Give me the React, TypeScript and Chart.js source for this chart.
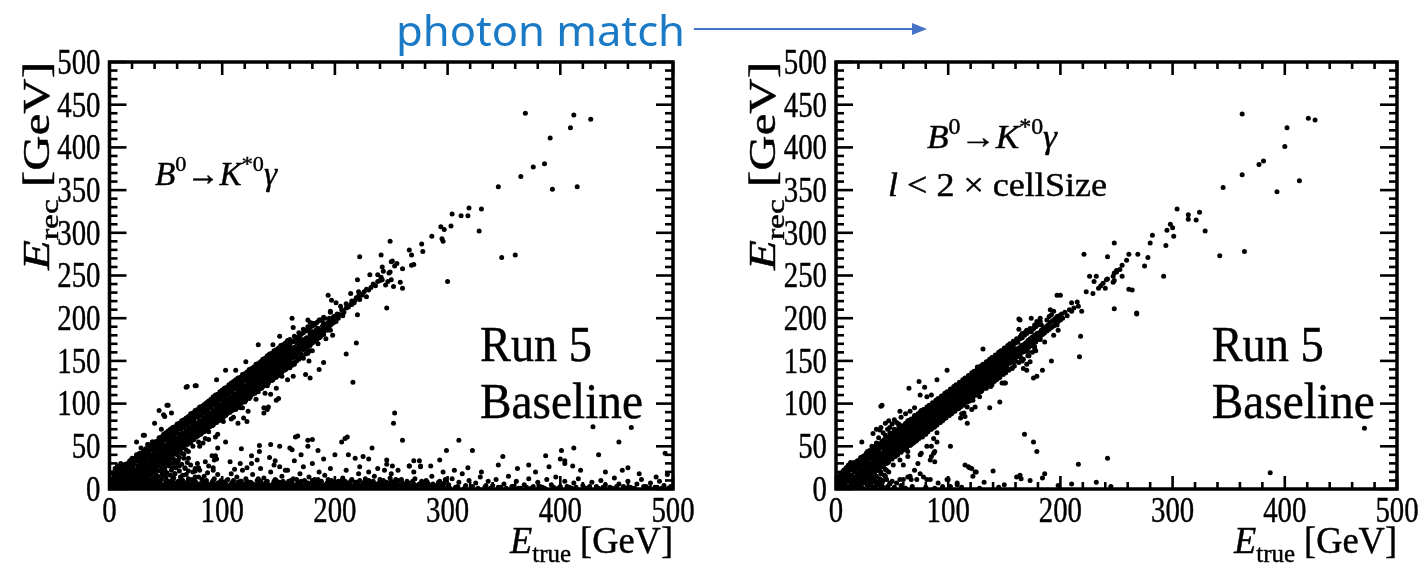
import React, { useEffect, useRef } from "react";
import { Chart, registerables } from "chart.js";
Chart.register(...registerables);

// ---------- axis ticks ----------
const xTickLabels = [0, 100, 200, 300, 400, 500];
const yTickLabels = [0, 50, 100, 150, 200, 250, 300, 350, 400, 450, 500];
const xMinorPerMajor = 5;
const yMinorPerMajor = 5;

// ---------- LEFT panel (no cut) ----------
const leftCore: [number, number][] = [
  [1,2],[2,5],[3,1],[3,8],[4,3],[5,6],[5,12],[6,2],[7,9],[7,15],[8,4],[9,11],[9,18],[10,7],[10,1],[11,13],[12,9],[12,20],[13,4],[13,15],[14,11],[14,24],[15,7],[15,17],[16,13],[16,2],[17,20],[17,9],[18,15],[18,27],[19,6],[19,22],[20,12],[20,18],[2,12],[4,16],[6,20],[8,23],[11,26],[1,9],[3,19],[5,24],[7,27],[10,30],[12,3],[14,6],[16,28],[18,32],[20,36],
  [21,15],[21,25],[22,10],[22,20],[22,30],[23,17],[23,34],[24,22],[24,13],[25,27],[25,19],[25,38],[26,24],[26,9],[27,30],[27,21],[27,42],[28,26],[28,16],[29,33],[29,23],[30,28],[30,38],[30,19],[31,31],[31,12],[32,25],[32,35],[32,44],[33,29],[33,20],[34,38],[34,31],[35,26],[35,42],[36,33],[36,22],[37,37],[37,47],[38,30],[38,40],[39,35],[39,26],[40,44],[40,38],[40,30],[28,48],[34,52],[38,55],[24,40],[33,14],[36,17],[39,20],
  [41,41],[41,33],[42,47],[42,36],[43,40],[43,52],[44,34],[44,45],[45,49],[45,39],[46,43],[46,55],[47,37],[47,47],[48,51],[48,42],[49,45],[49,58],[50,48],[50,40],[51,52],[51,44],[52,57],[52,47],[53,50],[53,41],[54,55],[54,62],[55,48],[55,53],[56,58],[56,45],[57,52],[57,63],[58,56],[58,49],[59,60],[59,53],[60,57],[60,66],[60,50],[44,60],[48,64],[46,70],[52,68],[56,72],[50,33],[54,38],[58,42],[45,27],[53,30],[41,25],
  [61,60],[61,53],[62,64],[62,57],[63,59],[63,70],[64,62],[64,55],[65,66],[65,59],[66,62],[66,72],[67,65],[67,58],[68,69],[68,62],[69,66],[69,75],[70,68],[70,61],[71,72],[71,65],[72,69],[72,78],[73,71],[73,64],[74,75],[74,68],[75,72],[75,80],[76,74],[76,66],[77,77],[77,70],[78,75],[78,84],[79,77],[79,69],[80,80],[80,73],[62,48],[66,50],[70,54],[74,58],[78,62],[64,78],[68,82],[72,86],[76,90],
  [81,78],[81,86],[82,80],[82,73],[83,83],[83,77],[84,81],[84,89],[85,84],[85,76],[86,86],[86,80],[87,84],[87,92],[88,86],[88,79],[89,89],[89,83],[90,87],[90,95],[91,89],[91,82],[92,92],[92,86],[93,90],[93,98],[94,92],[94,85],[95,95],[95,89],[96,93],[96,101],[97,95],[97,88],[98,98],[98,92],[99,96],[99,104],[100,98],[100,91],[82,66],[86,70],[90,74],[94,78],[98,82],[84,96],[92,104],[88,58],[96,64],
  [101,100],[101,94],[102,103],[102,97],[103,101],[103,108],[104,102],[104,95],[105,105],[105,99],[106,103],[106,111],[107,106],[107,99],[108,108],[108,102],[109,106],[109,114],[110,108],[110,102],[111,111],[111,104],[112,109],[112,117],[113,111],[113,105],[114,114],[114,108],[115,112],[115,120],[116,114],[116,107],[117,117],[117,111],[118,115],[118,122],[119,117],[119,110],[120,119],[120,113],[104,88],[108,92],[112,96],[116,100],[120,104],[106,118],[114,125],[110,84],[118,95],
  [121,121],[121,114],[122,118],[122,126],[123,122],[123,116],[124,124],[124,130],[125,121],[125,127],[126,124],[126,118],[127,126],[127,133],[128,124],[128,129],[129,127],[129,121],[130,129],[130,135],[131,126],[131,132],[132,130],[132,124],[133,132],[133,138],[134,129],[134,135],[135,133],[135,127],[136,135],[136,141],[137,132],[137,138],[138,136],[138,130],[139,138],[139,143],[140,135],[140,140],[124,110],[128,114],[132,118],[136,122],[140,126],[126,140],[134,146],[130,105],[138,112],
  [141,138],[141,144],[142,140],[142,134],[143,142],[143,147],[144,139],[144,144],[145,142],[145,136],[146,144],[146,150],[147,141],[147,146],[148,145],[148,152],[149,147],[149,141],[150,149],[150,154],[151,146],[151,151],[152,150],[152,144],[153,152],[153,157],[154,149],[154,154],[155,153],[155,147],[156,155],[156,160],[157,152],[157,157],[158,156],[158,150],[159,158],[159,163],[160,155],[160,160],[144,128],[150,134],[156,140],[146,160],[154,166],[148,118],[158,128],
  [161,158],[161,164],[162,160],[162,154],[163,162],[164,159],[164,166],[165,162],[166,165],[166,158],[167,163],[168,167],[168,172],[169,164],[170,168],[170,174],[171,166],[172,171],[173,168],[173,175],[174,172],[175,170],[175,177],[176,174],[177,171],[178,176],[178,181],[179,174],[180,178],[180,184],[164,148],[170,156],[176,160],[166,176],[174,186],
  [181,176],[182,181],[183,186],[183,178],[184,182],[185,188],[186,183],[187,178],[188,186],[189,191],[190,184],[190,194],[191,188],[192,192],[193,186],[194,195],[195,190],[196,198],[197,193],[198,200],[199,195],[200,201],[201,196],[202,205],[185,170],[192,176],[198,180],[196,208],[203,200],[205,204],[207,203],
];

const leftWide: [number, number][] = [
  [24,11],[26,37],[28,18],[30,43],[32,16],[34,43],[36,24],[38,49],[40,30],[42,51],[44,28],[46,53],[48,36],[50,63],[52,37],[54,60],[56,42],[58,68],[60,49],[62,74],[64,48],[66,73],[68,54],[70,81],[72,54],[74,81],[76,62],[78,88],[80,68],[82,90],[84,67],[86,92],[88,74],[90,101],[92,75],[94,98],[96,81],[98,106],[100,83],[102,110],[104,88],[106,113],[108,95],[110,119],[112,93],[114,118],[116,101],[118,126],[120,102],[122,129],[124,106],[126,130],[128,113],[130,139],[132,114],[134,137],[136,120],[138,145],[140,121],[142,147],[144,127],[146,152],[148,131],[150,156],[152,133],[154,158],[156,140],[158,165],[160,142],[162,164],[164,146],[166,171],[168,152],[170,175],[172,153],[174,176],[176,159],[178,183],[180,162],
];

const leftHalo: [number, number][] = [
  [4,17],[5,0],[6,21],[7,1],[8,19],[9,0],[10,24],[11,2],[12,26],[13,1],[14,29],[15,3],[16,30],[17,5],[18,33],[19,4],[20,31],[21,8],[22,36],[23,9],[24,35],[25,12],[26,41],[27,10],[28,40],[29,14],[30,44],[31,17],[32,47],[33,15],[34,46],[35,20],[36,50],[37,21],[38,52],[39,23],[40,55],[41,26],[42,56],[43,27],[44,58],[45,31],[46,61],[47,30],[48,62],[49,34],[50,66],[51,36],[52,65],[53,37],[54,70],[55,40],[56,71],[57,41],[58,73],[59,44],[60,76],[61,45],[62,77],[63,47],[64,80],[65,49],[66,81],[67,52],[68,83],[69,52],[70,85],[71,55],[72,88],[73,57],[74,89],[75,58],[76,92],[77,61],[78,93],[79,63],[80,96],[81,64],[82,97],[83,67],[84,99],[85,69],[86,101],[87,70],[88,103],[89,73],[90,105],[91,74],[92,108],[93,77],[94,110],[95,78],[96,111],[97,80],[98,114],[99,83],[100,116],[101,84],[102,118],[103,86],[104,119],[105,89],[106,122],[107,90],[108,124],[109,92],[110,126],[111,95],[112,128],[113,96],[114,130],[115,98],[116,131],[117,101],[118,134],[119,103],[120,135],[121,104],[122,137],[123,107],[124,140],[125,108],[126,141],[127,111],[128,143],[129,112],[130,146],[131,115],[132,147],[133,117],[134,149],[135,118],[136,152],[137,121],[138,153],[139,122],[140,156],[141,124],[142,158],[143,127],[144,159],[145,128],[146,162],[147,131],[148,163],[149,133],[150,165],[151,134],[152,168],[153,137],[154,169],[155,139],[156,171],[157,141],[158,174],[159,143],[160,175],[162,145],[164,179],[166,150],[168,183],[170,154],[172,187],[174,158],[176,190],[178,162],[180,194],
];

const leftFill: [number, number][] = [
  [5,15],[6,14],[7,18],[8,17],[9,21],[10,18],[11,21],[12,23],[13,22],
  [14,5],[14,24],[15,3],[15,23],[16,6],[16,27],[17,9],[17,26],[18,5],[18,30],[19,8],[19,27],[20,11],[20,30],[21,7],[21,32],[22,12],[22,31],[23,11],[23,35],[24,16],[24,34],[25,14],[25,33],[26,13],[26,37],[27,18],[27,36],[28,18],[28,38],
  [29,20],[29,39],[30,18],[30,38],[31,21],[31,42],[32,24],[32,41],[33,20],[33,45],[34,23],[34,42],[35,26],[35,45],[36,22],[36,47],[37,27],[37,46],[38,26],[38,50],[39,31],[39,49],[40,29],[40,48],[41,28],[41,52],[42,33],[42,51],[43,33],[43,53],
  [44,35],[44,54],[45,33],[45,53],[46,36],[46,57],[47,39],[47,56],[48,35],[48,60],[49,38],[49,57],[50,41],[50,60],[51,37],[51,62],[52,42],[52,61],[53,41],[53,65],[54,46],[54,64],[55,44],[55,63],[56,43],[56,67],[57,48],[57,66],[58,48],[58,68],
  [59,50],[59,69],[60,48],[60,68],[61,51],[61,72],[62,54],[62,71],[63,50],[63,75],[64,53],[64,72],[65,56],[65,75],[66,52],[66,77],[67,57],[67,76],[68,56],[68,80],[69,61],[69,79],[70,59],[70,78],[71,58],[71,82],[72,63],[72,81],[73,63],[73,83],
  [74,65],[74,84],[75,63],[75,83],[76,66],[76,87],[77,69],[77,86],[78,65],[78,90],[79,68],[79,87],[80,71],[80,90],[81,67],[81,92],[82,72],[82,91],[83,71],[83,95],[84,76],[84,94],[85,74],[85,93],[86,73],[86,97],[87,78],[87,96],[88,78],[88,98],
  [89,80],[89,99],[90,78],[90,98],[91,81],[91,102],[92,84],[92,101],[93,80],[93,105],[94,83],[94,102],[95,86],[95,105],[96,82],[96,107],[97,87],[97,106],[98,86],[98,110],[99,91],[99,109],[100,89],[100,108],[101,88],[101,112],[102,93],[102,111],[103,93],[103,113],
  [104,95],[104,114],[105,93],[105,113],[106,96],[106,117],[107,99],[107,116],[108,95],[108,120],[109,98],[109,117],[110,101],[110,120],[111,97],[111,122],[112,102],[112,121],[113,101],[113,125],[114,106],[114,124],[115,104],[115,123],[116,103],[116,127],[117,108],[117,126],[118,108],[118,128],
  [119,110],[119,129],[120,108],[120,128],[121,111],[121,132],[122,114],[122,131],[123,110],[123,135],[124,113],[124,132],[125,116],[125,135],[126,112],[126,137],[127,117],[127,136],[128,116],[128,140],[129,121],[129,139],[130,119],[130,138],[131,118],[131,142],[132,123],[132,141],[133,123],[133,143],
  [134,125],[134,144],[135,123],[135,143],[136,126],[136,147],[137,129],[137,146],[138,125],[138,150],[139,128],[139,147],[140,131],[140,150],[141,127],[141,152],[142,132],[142,151],[143,131],[143,155],[144,136],[144,154],[145,134],[145,153],[146,133],[146,157],[147,138],[147,156],[148,138],[148,158],
  [149,140],[149,159],[150,138],[150,158],[151,141],[151,162],[152,144],[152,161],[153,140],[153,165],[154,143],[154,162],[155,146],[155,165],[156,142],[156,167],[157,147],[157,166],[158,146],[158,170],[159,151],[159,169],[160,149],[160,168],
  [162,153],[162,172],[164,155],[164,174],[166,154],[166,177],[168,160],[168,178],[170,158],[170,181],[172,163],[172,183],[174,164],[174,185],[176,167],[176,186],[178,168],[178,189],[180,171],[180,191],[182,173],[182,192],[184,175],[184,195],[186,177],[186,197],[188,180],[188,198],[190,181],[190,201],
];

const leftTriangle: [number, number][] = [
  [20,4],[22,8],[24,3],[25,10],[27,6],[28,12],[30,3],[31,9],[32,14],[34,6],[35,11],[36,2],[37,16],[38,8],[39,13],[40,4],[41,18],[42,10],[43,15],[44,6],[45,21],[46,12],[47,17],[48,3],[49,24],[50,14],[51,19],[52,8],[53,27],[54,16],[55,22],[56,11],[57,30],[58,18],[59,25],[60,6],[61,33],[62,21],[63,14],[64,29],[65,9],[66,36],[67,24],[68,17],[69,31],[70,12],
  [26,16],[29,20],[33,18],[36,24],[40,22],[44,27],[48,30],[52,33],[56,36],[60,40],[64,42],[68,46],[30,7],[34,12],[38,19],[42,22],[46,26],[50,28],[54,31],[58,34],[62,37],[66,41],[70,36],[72,28],[74,20],[76,14],[78,30],[80,22],
];

const leftUpper: [number, number][] = [
  [206,210],[208,207],[210,212],[212,213],[214,216],[215,220],[217,218],[219,224],[221,226],[222,222],[224,228],[226,231],[228,234],[230,233],[232,236],[234,240],[236,238],[238,243],[240,244],[241,248],[194,227],[197,221],[201,218],[210,217],[215,216],[204,204],[201,203],[199,202],[196,207],[191,200],[187,198],[183,194],[185,188],[195,196],[196,186],[220,245],[214,229],[221,231],[224,227],[228,225],[218,221],[222,272],[241,274],[250,266],[255,264],[231,251],[238,251],[247,243],[252,237],[243,255],[248,253],[220,204],[246,212],[162,200],[176,198],[178,195],[163,189],[249,290],[251,267],[253,261],[242,260],[260,258],[249,254],[250,245],[242,245],[258,242],[245,239],[260,235],[266,280],[268,274],[270,263],[268,262],[277,287],[278,278],[286,296],[295,293],[296,290],[294,307],[297,304],[303,308],[304,322],[312,320],[318,320],[319,329],[330,328],[328,302],[345,354],[365,366],[376,377],[386,381],[391,411],[369,440],[409,423],[412,438],[427,433],[393,351],[415,354],[348,271],[360,274],[300,243],[210,158],[219,171],[216,125],[186,198],[195,200],[205,214],
  [30,63],[44,92],[52,98],[48,87],[55,89],[68,119],[77,121],[95,128],[103,139],[112,139],[121,149],[132,169],[145,169],[151,179],[40,77],[49,85],[51,98],[24,55],[31,63],[69,120],[76,121],[34,52],[38,55],
];

const leftBelow: [number, number][] = [
  [114,77],[122,79],[119,83],[137,89],[140,93],[148,104],[143,111],[153,132],[163,132],[174,134],[178,130],[186,140],[190,148],[177,150],[103,55],[96,48],[117,47],[133,51],[151,50],[162,46],[167,62],[176,57],[176,50],[206,55],[209,59],[211,61],[233,48],[79,55],[80,50],[94,39],[93,34],[88,27],[133,44],[142,37],[147,33],[160,48],[151,26],[156,22],[126,39],[131,34],[107,32],[116,30],[122,25],[111,23],[91,39],[95,35],[85,32],[79,25],[92,25],[76,21],[51,38],[60,30],[67,25],[49,22],[56,25],[54,32],[70,44],[74,50],[83,54],[64,48],[69,57],[101,79],[108,82],[116,95],[123,91],[98,89],[88,67],[94,61],[85,59],[76,69],[81,73],[137,95],[141,96],[150,106],[165,61],[180,58],[143,52],[200,40],[190,35],[225,38],[185,45],[170,40],[230,20],
];

const leftBottom: [number, number][] = [
  [2,3],[4,8],[6,1],[8,6],[9,12],[11,2],[13,9],[15,4],[17,11],[19,1],[21,7],[23,3],[25,13],[26,5],[28,1],[30,9],[32,4],[34,14],[35,2],[37,8],[39,5],[41,12],[43,2],[45,7],[47,17],[49,4],[51,10],[53,1],[55,6],[57,13],[59,3],[61,9],[63,5],[65,16],[67,2],[69,8],[71,4],[73,11],[75,1],[77,7],[79,14],[81,3],[83,9],[85,5],[87,19],[89,2],[91,8],[93,12],[95,4],[97,1],[99,10],[22,16],[36,20],[48,22],[58,18],[70,21],[84,15],[96,17],[12,18],[30,24],[44,28],[62,27],[76,24],[92,22],
  [101,6],[103,2],[105,11],[107,4],[109,8],[111,1],[113,14],[115,5],[117,9],[119,3],[121,12],[123,7],[125,1],[127,17],[129,4],[131,10],[133,6],[135,2],[137,13],[139,8],[141,3],[143,20],[145,6],[147,11],[149,2],[151,8],[153,15],[155,4],[157,1],[159,9],[161,5],[163,12],[165,3],[167,7],[169,18],[171,2],[173,10],[175,5],[177,14],[179,1],[181,8],[183,4],[185,11],[187,6],[189,2],[191,16],[193,7],[195,3],[197,10],[199,5],[108,18],[118,22],[134,24],[146,28],[158,22],[172,26],[186,20],[196,24],[126,30],[164,33],[180,30],
  [201,2],[203,9],[205,5],[207,13],[209,3],[211,7],[213,1],[215,11],[217,4],[219,8],[221,18],[223,2],[225,6],[227,12],[229,3],[231,9],[233,5],[235,15],[237,1],[239,7],[241,4],[243,10],[245,2],[247,6],[249,13],[251,3],[253,8],[255,1],[257,5],[259,11],[262,3],[265,7],[268,2],[271,12],[274,5],[277,9],[280,2],[283,6],[286,15],[289,3],[292,8],[295,4],[298,11],[210,22],[222,26],[238,24],[246,29],[230,35],[212,40],[218,36],[256,22],[270,20],[285,27],[296,20],[266,27],[276,26],[270,33],[275,33],
  [301,5],[304,12],[307,2],[310,8],[313,18],[316,4],[319,10],[322,3],[325,7],[329,14],[333,2],[336,9],[340,4],[343,11],[347,2],[350,6],[354,15],[357,3],[361,9],[365,1],[368,5],[372,12],[376,3],[380,8],[384,2],[388,11],[392,5],[396,14],[400,3],[404,9],[408,2],[412,7],[416,12],[420,4],[424,1],[428,8],[432,3],[436,10],[440,5],[444,2],[448,13],[452,6],[456,3],[460,9],[464,1],[468,6],[472,11],[476,3],[480,7],[484,2],[488,9],[492,4],[496,1],[306,22],[318,25],[330,20],[345,28],[362,24],[378,20],[390,26],[404,30],[418,22],[440,20],[455,22],[470,18],[485,14],[495,17],
];

const leftBottom2: [number, number][] = [
  [1,6],[3,10],[5,3],[7,1],[10,5],[12,11],[14,2],[16,7],[18,4],[20,9],[22,1],[24,6],[27,3],[29,11],[31,1],[33,6],[36,9],[38,2],[40,5],[42,8],[44,3],[46,11],[48,1],[50,6],[52,3],[54,9],[56,2],[58,7],[60,4],[62,1],[64,10],[66,5],[68,3],[70,7],[72,1],[74,4],[76,9],[78,2],[80,6],[82,11],[84,3],[86,7],[88,1],[90,5],[92,10],[94,2],[96,7],[98,4],[100,1],[102,8],[104,4],[106,1],[108,6],[110,10],[112,3],[114,8],[116,1],[118,6],[120,3],[122,9],[124,4],[126,7],[128,1],[130,5],[132,12],[134,3],[136,6],[138,1],[140,9],[142,4],[144,1],[146,7],[148,10],[150,3],[152,5],[154,9],[156,2],[158,6],[160,1],[162,8],[164,4],[166,11],[168,2],[170,6],[172,3],[174,8],[176,1],[178,5],[180,10],[182,2],[184,7],[186,3],[188,9],[190,1],[192,5],[194,11],[196,2],[198,7],[200,4],[202,1],[204,6],[206,10],[208,2],[210,7],[212,4],[214,9],[216,1],[218,5],[220,2],[222,10],[224,4],[226,8],[228,1],[230,6],[232,3],[234,9],[236,5],[238,2],[240,11],[242,6],[244,1],[246,8],[248,4],[250,9],[252,2],[254,6],[256,10],[258,3],[260,7],[263,1],[266,5],[269,9],[272,2],[275,6],[278,3],[281,10],[284,1],[287,6],[290,2],[293,9],[296,4],[299,1],
  [302,1],[309,3],[315,1],[321,2],[327,1],[334,4],[338,1],[345,2],[352,1],[358,3],[363,1],[370,2],[374,1],[382,3],[386,1],[394,2],[398,1],[406,3],[410,1],[414,2],[422,1],[426,3],[434,1],[438,2],[446,1],[450,3],[458,1],[462,2],[466,1],[474,3],[478,1],[486,2],[490,1],[498,3],
];

const leftBottom3: [number, number][] = [
  [2,4],[5,9],[8,2],[11,7],[14,5],[17,2],[20,6],[23,10],[26,3],[29,7],[32,1],[35,5],[38,10],[41,3],[44,6],[47,2],[50,9],[53,5],[56,1],[59,7],[62,4],[65,10],[68,2],[71,6],[74,8],[77,3],[80,1],[83,6],[86,10],[89,4],[92,7],[95,2],[98,8],[101,4],[104,10],[107,1],[110,6],[113,3],[116,9],[119,5],[122,2],[125,8],[128,5],[131,1],[134,9],[137,4],[140,6],[143,2],[146,9],[149,5],[152,1],[155,7],[158,4],[161,10],[164,1],[167,5],[170,9],[173,3],[176,7],[179,4],[182,11],[185,2],[188,6],[191,3],[194,8],[197,1],[200,7],[203,4],[206,2],[209,9],[212,6],[215,3],[218,8],[221,5],[224,1],[227,7],[230,10],[233,2],[236,6],[239,3],[242,8],[245,5],[248,1],[251,6],[254,11],[257,2],[261,5],[264,9],[267,3],[270,6],[273,1],[279,5],[282,8],[288,2],[291,5],[297,7],
];

const leftBottom4: [number, number][] = [
  [1,1],[3,3],[4,0],[6,4],[8,1],[9,3],[11,5],[13,2],[14,0],[16,3],[18,1],[19,5],[21,2],[23,4],[24,0],[26,2],[28,5],[29,1],[31,3],[33,0],[34,4],[36,2],[38,5],[39,1],[41,3],[43,0],[44,4],[46,2],[48,5],[49,1],[51,3],[53,0],[54,4],[56,2],[58,5],[59,1],[61,3],[63,0],[64,4],[66,2],[68,5],[69,1],[71,3],[73,0],[74,4],[76,2],[78,5],[79,1],[81,3],[83,0],[84,4],[86,2],[88,5],[89,1],[91,3],[93,0],[94,4],[96,2],[98,5],[99,1],[101,3],[103,0],[104,4],[106,2],[108,5],[109,1],[111,3],[113,0],[114,4],[116,2],[118,5],[119,1],[121,3],[123,0],[124,4],[126,2],[128,5],[129,1],[131,3],[133,0],[134,4],[136,2],[138,5],[139,1],[141,3],[143,0],[144,4],[146,2],[148,5],[149,1],[151,3],[153,0],[154,4],[156,2],[158,5],[159,1],[161,3],[163,0],[164,4],[166,2],[168,5],[169,1],[171,3],[173,0],[174,4],[176,2],[178,5],[179,1],[181,3],[183,0],[184,4],[186,2],[188,5],[189,1],[191,3],[193,0],[194,4],[196,2],[198,5],[199,1],[201,3],[203,0],[204,4],[206,2],[208,5],[209,1],[211,3],[213,0],[214,4],[216,2],[218,5],[219,1],[221,3],[223,0],[224,4],[226,2],[228,5],[229,1],[231,3],[233,0],[234,4],[236,2],[238,5],[239,1],[241,3],[243,0],[244,4],[246,2],[248,5],[249,1],[251,3],[254,0],[257,4],[260,2],[263,5],[266,1],[269,3],[272,0],[276,4],[280,1],[284,3],[288,0],[292,2],[297,1],
];

const leftLowScatter: [number, number][] = [
  [253,89],[252,77],[260,57],[310,57],[299,45],[322,45],[349,38],[293,34],[266,27],[276,27],[412,48],[429,73],[463,72],[452,55],[434,40],[401,45],[387,39],[400,35],[404,33],[411,27],[372,28],[460,25],[493,42],[251,27],[246,34],[244,22],[250,18],
];

// ---------- RIGHT panel (l < 2 x cellSize) ----------
const rightCore: [number, number][] = [
  [1,4],[2,1],[2,9],[3,6],[4,2],[4,13],[5,8],[6,4],[6,16],[7,11],[8,6],[8,19],[9,14],[10,9],[10,3],[11,17],[12,12],[12,22],[13,7],[14,16],[14,25],[15,11],[16,20],[16,5],[17,14],[18,23],[18,10],[19,18],[20,26],[20,13],[3,15],[5,19],[7,22],[9,25],[11,28],[13,31],[15,2],[17,6],[19,3],[1,12],
  [21,21],[21,30],[22,16],[22,25],[23,20],[23,33],[24,28],[24,17],[25,23],[25,35],[26,30],[26,19],[27,26],[27,38],[28,22],[28,31],[29,35],[29,27],[30,24],[30,40],[31,30],[31,37],[32,27],[32,43],[33,33],[33,40],[34,29],[34,36],[35,44],[35,32],[36,38],[36,28],[37,42],[37,34],[38,46],[38,37],[39,32],[39,41],[40,48],[40,36],[22,6],[26,9],[30,13],[34,18],[38,22],[24,38],[28,44],[32,50],[36,54],[23,2],[29,4],[35,8],
  [41,42],[41,35],[42,39],[42,49],[43,44],[43,37],[44,47],[44,41],[45,52],[45,40],[46,45],[46,54],[47,42],[47,50],[48,47],[48,56],[49,44],[49,51],[50,55],[50,47],[51,50],[51,59],[52,46],[52,54],[53,57],[53,50],[54,62],[54,53],[55,49],[55,58],[56,60],[56,53],[57,56],[57,64],[58,52],[58,60],[59,63],[59,56],[60,58],[60,67],[42,26],[46,31],[50,36],[54,40],[58,44],[44,63],[48,66],[52,70],[56,74],
  [61,62],[61,55],[62,66],[62,59],[63,61],[63,70],[64,64],[64,57],[65,68],[65,61],[66,63],[66,73],[67,67],[67,60],[68,71],[68,64],[69,67],[69,76],[70,70],[70,63],[71,74],[71,67],[72,70],[72,79],[73,73],[73,66],[74,77],[74,70],[75,74],[75,82],[76,76],[76,69],[77,79],[77,72],[78,77],[78,85],[79,79],[79,72],[80,82],[80,75],[62,47],[67,52],[72,57],[77,61],[64,80],[70,86],[76,92],[80,64],
  [81,80],[81,87],[82,77],[82,84],[83,86],[83,79],[84,83],[84,91],[85,86],[85,79],[86,88],[86,82],[87,85],[87,93],[88,88],[88,81],[89,91],[89,85],[90,89],[90,96],[91,91],[91,84],[92,94],[92,88],[93,92],[93,99],[94,94],[94,87],[95,97],[95,91],[96,95],[96,102],[97,97],[97,90],[98,100],[98,93],[99,98],[99,105],[100,100],[100,94],[84,70],[88,73],[92,78],[96,82],[100,86],[86,97],[94,106],[90,66],
  [101,102],[101,96],[102,100],[102,108],[103,103],[103,97],[104,106],[104,100],[105,103],[105,111],[106,106],[106,100],[107,109],[107,103],[108,106],[108,114],[109,109],[109,102],[110,112],[110,106],[111,109],[111,117],[112,112],[112,105],[113,115],[113,109],[114,112],[114,120],[115,115],[115,108],[116,118],[116,112],[117,115],[117,123],[118,118],[118,111],[119,121],[119,115],[120,118],[120,125],[104,90],[109,94],[114,98],[119,103],[106,120],[116,128],[112,88],
  [121,121],[121,115],[122,124],[122,118],[123,121],[123,129],[124,125],[124,118],[125,128],[125,122],[126,125],[126,132],[127,128],[127,121],[128,131],[128,125],[129,128],[129,135],[130,131],[130,124],[131,134],[131,128],[132,131],[132,138],[133,134],[133,127],[134,137],[134,131],[135,134],[135,141],[136,137],[136,130],[137,140],[137,134],[138,137],[138,144],[139,140],[139,133],[140,143],[140,137],[124,110],[129,114],[134,118],[139,122],[126,143],[136,150],[122,104],
  [141,140],[141,146],[142,143],[142,137],[143,146],[143,140],[144,143],[144,149],[145,146],[145,140],[146,149],[146,143],[147,146],[147,152],[148,149],[148,142],[149,152],[149,146],[150,149],[150,156],[151,152],[151,146],[152,155],[152,149],[153,152],[153,158],[154,155],[154,148],[155,158],[155,152],[156,155],[156,161],[157,158],[157,151],[158,161],[158,155],[159,158],[159,164],[160,161],[160,155],[145,130],[151,136],[157,141],[148,162],[156,168],[150,124],
  [161,164],[161,158],[162,161],[163,165],[163,159],[164,162],[165,168],[165,161],[166,165],[167,169],[167,162],[168,166],[169,171],[169,164],[170,168],[171,174],[171,167],[172,170],[173,176],[173,169],[174,173],[175,178],[175,171],[176,175],[177,180],[177,173],[178,177],[179,182],[179,175],[180,179],[166,150],[172,156],[178,162],[164,178],[172,186],[170,146],
  [181,183],[182,178],[183,186],[184,181],[185,188],[186,183],[187,190],[188,185],[189,192],[190,187],[191,195],[192,189],[193,197],[194,191],[195,199],[196,194],[197,201],[198,196],[199,203],[200,198],[201,205],[202,200],[204,207],[206,203],[208,210],[210,208],[186,172],[194,180],[182,196],[190,202],
];

const rightWide: [number, number][] = [
  [24,34],[27,16],[30,42],[33,22],[36,46],[39,29],[42,53],[45,33],[48,60],[51,40],[54,64],[57,47],[60,71],[63,51],[66,78],[69,58],[72,82],[75,65],[78,90],[81,69],[84,95],[87,77],[90,100],[93,81],[96,108],[99,88],[102,112],[105,95],[108,120],[111,99],[114,125],[117,105],[120,132],[123,113],[126,136],[129,118],[132,144],[135,123],[138,149],[141,131],[144,154],[147,136],[150,162],[153,141],[156,166],[159,149],[162,172],[165,153],[168,180],[171,161],[174,184],[177,165],
];

const rightHalo: [number, number][] = [
  [4,18],[6,0],[7,22],[9,1],[10,25],[12,2],[13,27],[15,4],[16,31],[18,3],[19,33],[21,7],[22,37],[23,10],[25,39],[26,12],[27,42],[29,15],[30,45],[31,16],[33,48],[34,19],[35,50],[37,22],[38,53],[39,25],[41,56],[42,27],[43,58],[45,30],[46,61],[47,32],[49,64],[50,35],[51,66],[53,38],[54,69],[55,40],[57,72],[58,43],[59,74],[61,46],[62,77],[63,48],[65,80],[66,51],[67,82],[69,54],[70,85],[71,56],[73,88],[74,59],[75,90],[77,62],[78,93],[79,64],[81,96],[82,67],[83,98],[85,70],[86,101],[87,72],[89,104],[90,75],[91,106],[93,78],[94,109],[95,80],[97,112],[98,83],[99,114],[101,86],[102,117],[103,88],[105,120],[106,91],[107,122],[109,94],[110,125],[111,96],[113,128],[114,99],[115,130],[117,102],[118,133],[119,104],[121,136],[122,107],[123,138],[125,110],[126,141],[127,112],[129,144],[130,115],[131,146],[133,118],[134,149],[135,120],[137,152],[138,123],[139,154],[141,126],[142,157],[143,128],[145,160],[146,131],[147,162],[149,134],[150,165],[151,136],[153,168],[154,139],[155,170],[157,142],[158,173],[159,144],[161,176],[163,148],[165,180],[167,152],[169,184],[171,156],[173,188],[175,160],[177,192],
];

const rightFill: [number, number][] = [
  [5,15],[6,17],[7,16],[8,19],[9,20],[10,20],[11,23],[12,22],[13,25],
  [14,7],[14,24],[15,5],[15,28],[16,8],[16,25],[17,6],[17,28],[18,9],[18,30],[19,12],[19,29],[20,8],[20,29],[21,13],[21,34],[22,12],[22,33],[23,14],[23,33],
  [24,17],[24,34],[25,15],[25,38],[26,18],[26,35],[27,16],[27,38],[28,19],[28,40],[29,22],[29,39],[30,18],[30,39],[31,23],[31,44],[32,22],[32,43],[33,24],[33,43],
  [34,27],[34,44],[35,25],[35,48],[36,28],[36,45],[37,26],[37,48],[38,29],[38,50],[39,32],[39,49],[40,28],[40,49],[41,33],[41,54],[42,32],[42,53],[43,34],[43,53],
  [44,37],[44,54],[45,35],[45,58],[46,38],[46,55],[47,36],[47,58],[48,39],[48,60],[49,42],[49,59],[50,38],[50,59],[51,43],[51,64],[52,42],[52,63],[53,44],[53,63],
  [54,47],[54,64],[55,45],[55,68],[56,48],[56,65],[57,46],[57,68],[58,49],[58,70],[59,52],[59,69],[60,48],[60,69],[61,53],[61,74],[62,52],[62,73],[63,54],[63,73],
  [64,57],[64,74],[65,55],[65,78],[66,58],[66,75],[67,56],[67,78],[68,59],[68,80],[69,62],[69,79],[70,58],[70,79],[71,63],[71,84],[72,62],[72,83],[73,64],[73,83],
  [74,67],[74,84],[75,65],[75,88],[76,68],[76,85],[77,66],[77,88],[78,69],[78,90],[79,72],[79,89],[80,68],[80,89],[81,73],[81,94],[82,72],[82,93],[83,74],[83,93],
  [84,77],[84,94],[85,75],[85,98],[86,78],[86,95],[87,76],[87,98],[88,79],[88,100],[89,82],[89,99],[90,78],[90,99],[91,83],[91,104],[92,82],[92,103],[93,84],[93,103],
  [94,87],[94,104],[95,85],[95,108],[96,88],[96,105],[97,86],[97,108],[98,89],[98,110],[99,92],[99,109],[100,88],[100,109],[101,93],[101,114],[102,92],[102,113],[103,94],[103,113],
  [104,97],[104,114],[105,95],[105,118],[106,98],[106,115],[107,96],[107,118],[108,99],[108,120],[109,102],[109,119],[110,98],[110,119],[111,103],[111,124],[112,102],[112,123],[113,104],[113,123],
  [114,107],[114,124],[115,105],[115,128],[116,108],[116,125],[117,106],[117,128],[118,109],[118,130],[119,112],[119,129],[120,108],[120,129],[121,113],[121,134],[122,112],[122,133],[123,114],[123,133],
  [124,117],[124,134],[125,115],[125,138],[126,118],[126,135],[127,116],[127,138],[128,119],[128,140],[129,122],[129,139],[130,118],[130,139],[131,123],[131,144],[132,122],[132,143],[133,124],[133,143],
  [134,127],[134,144],[135,125],[135,148],[136,128],[136,145],[137,126],[137,148],[138,129],[138,150],[139,132],[139,149],[140,128],[140,149],[141,133],[141,154],[142,132],[142,153],[143,134],[143,153],
  [144,137],[144,154],[145,135],[145,158],[146,138],[146,155],[147,136],[147,158],[148,139],[148,160],[149,142],[149,159],[150,138],[150,159],
  [152,142],[152,163],[154,147],[154,164],[156,148],[156,168],[158,152],[158,168],[160,150],[160,171],[162,155],[162,174],[164,156],[164,176],[166,160],[166,177],[168,161],[168,181],[170,164],[170,182],[172,166],[172,184],[174,168],[174,186],[176,171],[176,188],[178,172],[178,190],[180,175],[180,192],
];

const rightTriangle: [number, number][] = [
  [18,5],[20,9],[22,3],[24,12],[25,7],[27,15],[28,4],[29,10],[30,17],[31,6],[32,13],[33,2],[34,19],[35,10],[36,15],[37,5],[38,24],[39,12],[40,20],[41,7],[42,28],[43,16],[44,23],[45,11],[46,31],[47,20],[48,6],[26,20],[30,25],[34,27],[38,30],[42,33],[44,36],[21,14],[23,18],[32,9],[36,8],[40,3],
];

const rightUpper: [number, number][] = [
  [221,275],[242,272],[226,249],[232,249],[230,243],[238,241],[242,246],[247,242],[248,253],[250,256],[223,231],[229,229],[234,235],[236,238],[240,235],[197,227],[200,227],[210,218],[215,219],[216,214],[219,208],[212,212],[191,210],[194,208],[197,202],[195,196],[197,192],[198,186],[192,204],[188,198],[183,192],[182,200],[179,196],[176,188],[185,182],[182,175],[177,167],[164,198],[174,200],[180,194],[163,187],[166,182],[170,186],[248,211],[218,179],[217,155],[248,288],[269,275],[261,275],[278,271],[275,261],[259,268],[255,262],[253,257],[250,254],[247,249],[241,245],[248,244],[255,249],[261,234],[264,233],[292,249],[298,310],[300,306],[301,296],[295,303],[282,297],[280,288],[294,285],[304,328],[314,321],[314,316],[321,315],[324,324],[329,302],[342,273],[364,278],[345,353],[362,368],[393,348],[413,361],[377,380],[381,384],[400,401],[402,423],[421,434],[427,432],[362,439],[268,206],[268,205],
  [40,97],[41,98],[57,91],[65,118],[74,126],[79,119],[99,139],[90,128],[75,110],[81,108],[85,110],[33,65],[23,55],[39,69],[131,164],[163,199],
  [36,70],[40,72],[44,77],[47,80],[50,76],[52,81],[38,60],[42,66],[46,70],[54,78],[58,84],[62,88],[66,91],[70,95],[48,72],[56,76],
];

const rightBelow: [number, number][] = [
  [192,150],[184,139],[176,130],[179,132],[167,141],[170,139],[173,149],[146,102],[137,95],[148,124],[151,124],[138,120],[125,114],[128,108],[117,96],[114,89],[111,83],[117,77],[115,85],[121,93],[124,96],[90,55],[87,59],[85,50],[102,50],[87,42],[88,32],[85,38],[76,42],[64,38],[60,28],[168,64],[176,55],[179,44],[216,29],[242,36],[387,19],[471,71],
  [62,52],[64,44],[75,40],[81,50],[88,44],[84,34],[57,34],[73,30],[51,28],
];

const rightBottom: [number, number][] = [
  [115,28],[118,26],[121,24],[122,15],[125,20],[140,21],[164,16],[173,10],[184,13],[186,18],[132,8],[108,7],[100,11],[91,7],[84,11],[78,14],[72,11],[70,22],[66,15],[60,11],[54,7],[48,7],[45,22],[64,14],[67,11],[75,18],[81,11],[99,11],[102,3],[108,5],[119,25],[124,20],[161,14],[50,9],[57,11],[232,8],[245,3],[165,12],[198,4],[210,6],[150,5],[35,3],[38,8],[42,2],[30,5],[26,12],[32,16],[36,22],[28,27],
  [30,20],[33,25],[36,14],[38,30],[40,18],[42,10],[35,33],[31,9],[37,5],[41,26],[44,15],[27,17],[25,30],[2,2],[5,1],[9,2],[12,1],[16,1],[20,2],[24,1],[46,3],[52,2],[58,4],[62,1],[68,3],[80,2],[88,1],[95,3],[112,2],[128,1],[145,2],
];

// ---------- drawing helpers ----------
type Seg = { t: string; it?: boolean; sup?: boolean; sub?: boolean };
const SERIF_FAMILY = '"Liberation Serif"';

function drawRich(
  ctx: CanvasRenderingContext2D,
  segs: Seg[],
  x: number,
  y: number,
  size: number,
  opts: { width?: number; sx?: number; align?: "left" | "right" | "center"; rotate?: boolean; subScale?: number }
) {
  const subScale = opts.subScale ?? 0.68;
  const fontFor = (s: Seg) => {
    const px = Math.round(s.sup || s.sub ? size * subScale : size);
    return (s.it ? "italic " : "normal ") + px + "px " + SERIF_FAMILY;
  };
  let W = 0;
  const ws = segs.map((s) => {
    ctx.font = fontFor(s);
    const w = ctx.measureText(s.t).width;
    W += w;
    return w;
  });
  const sx = opts.width ? opts.width / W : opts.sx ?? 1;
  ctx.save();
  ctx.translate(x, y);
  if (opts.rotate) ctx.rotate(-Math.PI / 2);
  ctx.scale(sx, 1);
  let cx = opts.align === "right" ? -W : opts.align === "center" ? -W / 2 : 0;
  ctx.textBaseline = "alphabetic";
  ctx.textAlign = "left";
  ctx.fillStyle = "#000";
  ctx.strokeStyle = "#000";
  ctx.lineWidth = 0.45;
  ctx.lineJoin = "round";
  segs.forEach((s, i) => {
    ctx.font = fontFor(s);
    const dy = s.sup ? -size * 0.42 : s.sub ? size * 0.24 : 0;
    ctx.fillText(s.t, cx, dy);
    ctx.strokeText(s.t, cx, dy);
    cx += ws[i];
  });
  ctx.restore();
}

type PanelText = {
  lines: { segs: Seg[]; dx: number; y: number; size: number; width: number }[];
};

function makeFramePlugin(texts: PanelText) {
  return {
    id: "rootFrame",
    afterDatasetsDraw(chart: any) {
      const { ctx, chartArea: a, scales } = chart;
      const xs = scales.x;
      const ys = scales.y;
      ctx.save();
      ctx.strokeStyle = "#000";
      ctx.lineCap = "butt";
      ctx.lineWidth = 2.6;
      const line = (x1: number, y1: number, x2: number, y2: number) => {
        ctx.beginPath();
        ctx.moveTo(x1, y1);
        ctx.lineTo(x2, y2);
        ctx.stroke();
      };
      for (let i = 0; i < yTickLabels.length; i++) {
        const v = yTickLabels[i];
        const py = ys.getPixelForValue(v);
        line(a.left, py, a.left + 17, py);
        line(a.right, py, a.right - 17, py);
        if (i < yTickLabels.length - 1) {
          const step = (yTickLabels[i + 1] - v) / yMinorPerMajor;
          for (let k = 1; k < yMinorPerMajor; k++) {
            const pm = ys.getPixelForValue(v + k * step);
            line(a.left, pm, a.left + 8, pm);
            line(a.right, pm, a.right - 8, pm);
          }
        }
      }
      for (let i = 0; i < xTickLabels.length; i++) {
        const v = xTickLabels[i];
        const px = xs.getPixelForValue(v);
        line(px, a.bottom, px, a.bottom - 13);
        line(px, a.top, px, a.top + 13);
        if (i < xTickLabels.length - 1) {
          const step = (xTickLabels[i + 1] - v) / xMinorPerMajor;
          for (let k = 1; k < xMinorPerMajor; k++) {
            const pm = xs.getPixelForValue(v + k * step);
            line(pm, a.bottom, pm, a.bottom - 7);
            line(pm, a.top, pm, a.top + 7);
          }
        }
      }
      ctx.lineWidth = 3.5;
      ctx.strokeRect(a.left, a.top, a.right - a.left, a.bottom - a.top);

      const tsize = 36;
      for (const v of yTickLabels) {
        const py = ys.getPixelForValue(v);
        drawRich(ctx, [{ t: String(v) }], a.left - 9, py + tsize * 0.33, tsize, { align: "right", sx: 0.8 });
      }
      for (const v of xTickLabels) {
        const px = xs.getPixelForValue(v);
        drawRich(ctx, [{ t: String(v) }], px, a.bottom + 33, tsize, { align: "center", sx: 0.8 });
      }
      drawRich(
        ctx,
        [{ t: "E", it: true }, { t: "true", sub: true }, { t: " [GeV]" }],
        a.right,
        a.bottom + 64,
        38,
        { align: "right", width: 163 }
      );
      drawRich(
        ctx,
        [{ t: "E", it: true }, { t: "rec", sub: true }, { t: " [GeV]" }],
        a.left - 61,
        a.top,
        38,
        { align: "right", rotate: true, width: 208 }
      );
      for (const l of texts.lines) {
        drawRich(ctx, l.segs, a.left + l.dx, l.y, l.size, { width: l.width });
      }
      ctx.restore();
    },
  };
}

const decay: Seg[] = [
  { t: "B", it: true },
  { t: "0", sup: true },
  { t: "\u2192" },
  { t: "K", it: true },
  { t: "*0", sup: true },
  { t: "\u03B3", it: true },
];

function Panel(props: {
  left: number;
  width: number;
  padLeft: number;
  padRight: number;
  series: [number, number][][];
  texts: PanelText;
}) {
  const ref = useRef<HTMLCanvasElement | null>(null);
  useEffect(() => {
    const canvas = ref.current!;
    const pts = props.series.flat().map(([x, y]) => ({ x, y }));
    const chart = new Chart(canvas, {
      type: "scatter",
      data: {
        datasets: [
          {
            data: pts,
            backgroundColor: "#000",
            borderWidth: 0,
            pointRadius: 2.5,
            pointHoverRadius: 2.5,
          },
        ],
      },
      options: {
        animation: false,
        responsive: false,
        devicePixelRatio: 1,
        events: [],
        layout: { padding: { left: props.padLeft, right: props.padRight, top: 62, bottom: 77 } },
        plugins: { legend: { display: false }, tooltip: { enabled: false } },
        scales: {
          x: { type: "linear", min: 0, max: 500, display: false },
          y: { type: "linear", min: 0, max: 500, display: false },
        },
      },
      plugins: [makeFramePlugin(props.texts)],
    });
    let alive = true;
    const fonts: any = (document as any).fonts;
    if (fonts && fonts.ready) {
      fonts.ready.then(() => {
        if (alive) chart.draw();
      });
    }
    return () => {
      alive = false;
      chart.destroy();
    };
  }, []);
  return (
    <canvas
      ref={ref}
      width={props.width}
      height={566}
      style={{ position: "absolute", left: props.left, top: 0, width: props.width, height: 566 }}
    />
  );
}

export default function App() {
  return (
    <div
      style={{
        position: "fixed",
        left: 0,
        top: 0,
        width: 1427,
        height: 566,
        background: "#fff",
        overflow: "hidden",
      }}
    >
      <div
        aria-hidden="true"
        style={{ position: "absolute", left: -2000, top: 0, fontFamily: "'Liberation Serif'", fontSize: 20 }}
      >
        <span>Ab1</span>
        <span style={{ fontStyle: "italic" }}>Ab1</span>
      </div>
      <Panel
        left={0}
        width={713}
        padLeft={109.5}
        padRight={40}
        series={[leftBottom, leftBottom2, leftBottom3, leftBottom4, leftLowScatter, leftBelow, leftTriangle, leftCore, leftWide, leftHalo, leftFill, leftUpper]}
        texts={{
          lines: [
            { segs: decay, dx: 45.5, y: 185, size: 33, width: 122 },
            { segs: [{ t: "Run 5" }], dx: 370.5, y: 361, size: 50, width: 112 },
            { segs: [{ t: "Baseline" }], dx: 370.5, y: 418, size: 50, width: 163 },
          ],
        }}
      />
      <Panel
        left={713}
        width={714}
        padLeft={123}
        padRight={30}
        series={[rightBottom, rightBelow, rightTriangle, rightCore, rightWide, rightHalo, rightFill, rightUpper]}
        texts={{
          lines: [
            { segs: decay, dx: 91, y: 148, size: 34, width: 130 },
            {
              segs: [{ t: "l", it: true }, { t: " < 2 \u00D7 cellSize" }],
              dx: 52,
              y: 196,
              size: 34,
              width: 219,
            },
            { segs: [{ t: "Run 5" }], dx: 375.7, y: 361, size: 50, width: 112 },
            { segs: [{ t: "Baseline" }], dx: 375.7, y: 418, size: 50, width: 163 },
          ],
        }}
      />
      <svg
        width={1427}
        height={566}
        style={{ position: "absolute", left: 0, top: 0, pointerEvents: "none" }}
      >
        <text
          x={396}
          y={46}
          fontFamily='"Noto Sans", "Open Sans", sans-serif'
          fontSize={42}
          fill="#1B7AC6"
          textLength={289}
          lengthAdjust="spacingAndGlyphs"
        >
          photon match
        </text>
        <line x1={694} y1={29} x2={915} y2={29} stroke="#4472C4" strokeWidth={2} />
        <polygon points="927,29 912,23 912,35" fill="#4472C4" />
      </svg>
    </div>
  );
}
